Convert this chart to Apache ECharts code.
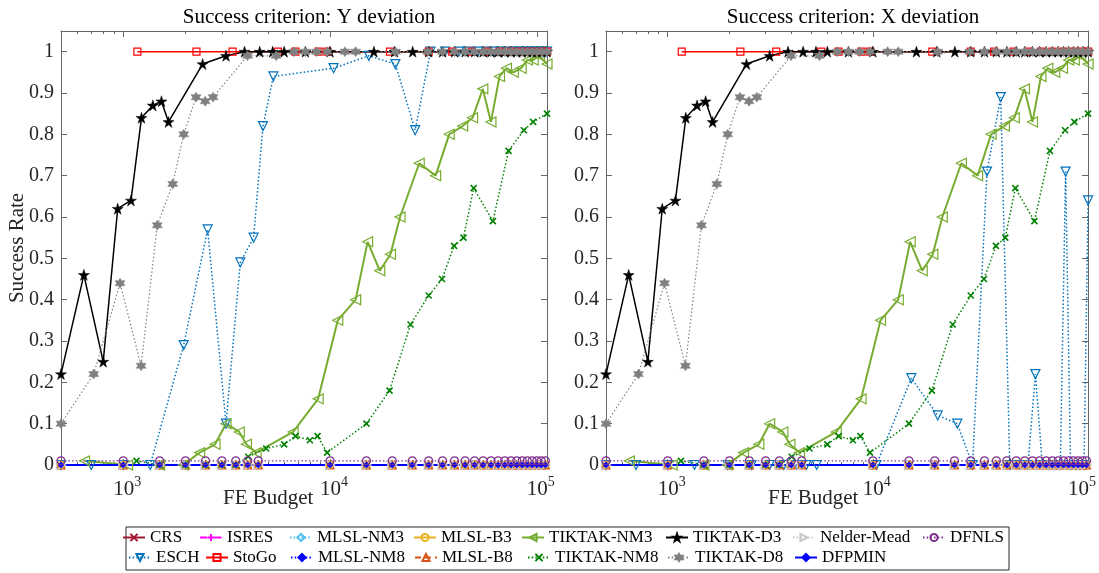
<!DOCTYPE html>
<html><head><meta charset="utf-8">
<script src="https://cdn.jsdelivr.net/npm/echarts@6/dist/echarts.min.js"></script>
<style>html,body{margin:0;padding:0;background:#fff}#c{width:1099px;height:573px}</style>
</head><body><div id="c"></div>
<script>
// ---------------- DATA ----------------
const panelTitles = ['Success criterion: Y deviation', 'Success criterion: X deviation'];
const xMajorTicks = [1000, 10000, 100000];
const xMajorExp = {1000: '3', 10000: '4', 100000: '5'};
const xMinorTicks = [600, 700, 800, 900, 2000, 3000, 4000, 5000, 6000, 7000, 8000, 9000,
  20000, 30000, 40000, 50000, 60000, 70000, 80000, 90000];
const yTickValues = [0, 0.1, 0.2, 0.3, 0.4, 0.5, 0.6, 0.7, 0.8, 0.9, 1];

// common budget grid (DFNLS & the methods that stay at 0)
const gridX = [500, 1000, 1500, 2000, 2500, 3000, 3500, 4000, 4500,
  10000, 15000, 20000, 25000, 30000, 35000, 40000, 45000, 50000, 55000, 60000,
  65000, 70000, 75000, 80000, 85000, 90000, 95000, 100000, 105000, 110000];
const zeroY = [0, 0, 0, 0, 0, 0, 0, 0, 0, 0, 0, 0, 0, 0, 0, 0, 0, 0, 0, 0, 0, 0, 0, 0, 0, 0, 0, 0, 0, 0];
const dfnlsY = [0.01, 0.01, 0.01, 0.01, 0.01, 0.01, 0.01, 0.01, 0.01, 0.01, 0.01, 0.01, 0.01, 0.01, 0.01,
  0.01, 0.01, 0.01, 0.01, 0.01, 0.01, 0.01, 0.01, 0.01, 0.01, 0.01, 0.01, 0.01, 0.01, 0.01];

const eschX = [500, 700, 1000, 1350, 1960, 2560, 3140, 3680, 4270, 4740, 5320, 10400, 15400, 20700, 25800,
  30600, 36000, 42000, 46500, 52000, 57000, 62000, 67000, 72000, 77000, 82000, 87000, 92000, 97000, 102000, 107000, 112000];
const eschYdev = [0, 0, 0, 0, 0.29, 0.57, 0.10, 0.49, 0.55, 0.82, 0.94, 0.96, 0.99, 0.97, 0.81,
  1, 1, 1, 1, 1, 1, 1, 1, 1, 1, 1, 1, 1, 1, 1, 1, 1];
const eschXdev = [0, 0, 0, 0, 0, 0, 0, 0, 0, 0, 0, 0, 0.21, 0.12, 0.10,
  0, 0.71, 0.89, 0, 0, 0, 0.22, 0, 0, 0, 0, 0.71, 0, 0, 0, 0, 0.64];

const stogoX = [1170, 2260, 3380, 5600, 6800, 8800, 9700, 19500, 30000, 39000, 48500, 57500, 66000, 75000, 85000, 95000, 105000, 112000];
const stogoY = [1, 1, 1, 1, 1, 1, 1, 1, 1, 1, 1, 1, 1, 1, 1, 1, 1, 1];

const nm3X = [650, 1050, 1500, 1950, 2340, 2780, 3140, 3640, 3940, 4390, 6630, 8760, 10900, 13300, 15200, 17400,
  19600, 21800, 27000, 32400, 37700, 43800, 48900, 54800, 60000, 66000, 71300, 77000, 84000, 90000, 96000, 103000, 112000];
const nm3Y = [0.01, 0, 0, 0, 0.03, 0.05, 0.10, 0.08, 0.05, 0.03, 0.08, 0.16, 0.35, 0.40, 0.54, 0.47,
  0.51, 0.60, 0.73, 0.70, 0.80, 0.82, 0.84, 0.91, 0.83, 0.94, 0.96, 0.95, 0.96, 0.98, 0.98, 0.99, 0.97];

const nm8X = [1160, 1500, 2000, 2500, 3000, 3500, 4020, 4910, 6000, 6810, 7990, 8700, 9680, 15000, 19400,
  24500, 30000, 34800, 39800, 44200, 49500, 61300, 73000, 86500, 96000, 112000];
const nm8Y = [0.01, 0, 0, 0, 0, 0, 0.02, 0.04, 0.05, 0.07, 0.06, 0.07, 0.03, 0.10, 0.18,
  0.34, 0.41, 0.45, 0.53, 0.55, 0.67, 0.59, 0.76, 0.81, 0.83, 0.85];

const d3X = [500, 645, 800, 940, 1090, 1225, 1390, 1530, 1655, 2420, 3140, 3860, 4570, 5280, 6000, 7600, 10000,
  16300, 20500, 25100, 30000, 35000, 40000, 45000, 50000, 55000, 60000, 65000, 70000, 75000, 80000, 85000,
  90000, 95000, 100000, 106000, 112000];
const d3Y = [0.22, 0.46, 0.25, 0.62, 0.64, 0.84, 0.87, 0.88, 0.83, 0.97, 0.99, 1, 1, 1, 1, 1, 1,
  1, 1, 1, 1, 1, 1, 1, 1, 1, 1, 1, 1, 1, 1, 1, 1, 1, 1, 1, 1];

const d8X = [500, 720, 965, 1220, 1460, 1735, 1960, 2250, 2490, 2720, 3990, 5490, 6700, 7600, 8600, 9700, 11800,
  13300, 20700, 29700, 35000, 40000, 45000, 50000, 55000, 60000, 65000, 70000, 75000, 80000, 85000, 90000,
  95000, 100000, 106000, 112000];
const d8Y = [0.10, 0.22, 0.44, 0.24, 0.58, 0.68, 0.80, 0.89, 0.88, 0.89, 0.99, 0.99, 1, 1, 1, 1, 1,
  1, 1, 1, 1, 1, 1, 1, 1, 1, 1, 1, 1, 1, 1, 1, 1, 1, 1, 1];

// ---------------- STYLE ----------------
const FONT = '"Liberation Serif","Times New Roman",serif';
const AX = '#666666';
const SYM = {
  x: 'path://M0,0L10,10M10,0L0,10',
  plus: 'path://M5,0L5,10M0,5L10,5',
  pent: 'path://M5,0L6.18,3.62L10,3.62L6.91,5.86L8.09,9.51L5,7.24L1.91,9.51L3.09,5.86L0,3.62L3.82,3.62Z',
  hex: 'path://M5,0L6.44,2.5L9.33,2.5L7.89,5L9.33,7.5L6.44,7.5L5,10L3.56,7.5L0.67,7.5L2.11,5L0.67,2.5L3.56,2.5Z',
  tdown: 'path://M0,0L10,0L5,8.66Z',
  tleft: 'path://M8.66,0L8.66,10L0,5Z',
  tright: 'path://M0,0L0,10L8.66,5Z',
  tup: 'path://M5,0L10,8.66L0,8.66Z'
};
const DOT = [1.5, 2.2], DASH = [6, 4], DASHDOT = [7, 3, 1.5, 3];

function pairs(xs, ys) { return xs.map((x, i) => [x, ys[i]]); }

// name, color, dash, width, symbol, size, fill mode, data per panel
const seriesDefs = [
  {name: 'CRS', c: '#A2142F', t: 'solid', w: 1, s: SYM.x, z: 7, f: 'stroke', d: [pairs(gridX, zeroY), pairs(gridX, zeroY)]},
  {name: 'ESCH', c: '#0072BD', t: DOT, w: 1.5, s: SYM.tdown, z: 9, f: 'hollow', d: [pairs(eschX, eschYdev), pairs(eschX, eschXdev)]},
  {name: 'ISRES', c: '#FF00FF', t: DASHDOT, w: 1, s: SYM.plus, z: 8, f: 'stroke', d: [pairs(gridX, zeroY), pairs(gridX, zeroY)]},
  {name: 'StoGo', c: '#FF0000', t: 'solid', w: 1.5, s: 'rect', z: 7, f: 'hollow', d: [pairs(stogoX, stogoY), pairs(stogoX, stogoY)]},
  {name: 'MLSL-NM3', c: '#4DBEEE', t: DOT, w: 1, s: 'diamond', z: 8, f: 'hollow', d: [pairs(gridX, zeroY), pairs(gridX, zeroY)]},
  {name: 'MLSL-NM8', c: '#0000FF', t: DOT, w: 1.5, s: 'diamond', z: 5, f: 'fill', d: [pairs(gridX, zeroY), pairs(gridX, zeroY)]},
  {name: 'MLSL-B3', c: '#EDB120', t: 'solid', w: 1, s: 'circle', z: 7, f: 'hollow', d: [pairs(gridX, zeroY), pairs(gridX, zeroY)]},
  {name: 'MLSL-B8', c: '#D95319', t: DASH, w: 1, s: SYM.tup, z: 8, f: 'hollow', d: [pairs(gridX, zeroY), pairs(gridX, zeroY)]},
  {name: 'TIKTAK-NM3', c: '#77AC30', t: 'solid', w: 2, s: SYM.tleft, z: 10, f: 'hollow', d: [pairs(nm3X, nm3Y), pairs(nm3X, nm3Y)]},
  {name: 'TIKTAK-NM8', c: '#008000', t: DOT, w: 1.5, s: SYM.x, z: 6, f: 'stroke', d: [pairs(nm8X, nm8Y), pairs(nm8X, nm8Y)]},
  {name: 'TIKTAK-D3', c: '#000000', t: 'solid', w: 1.5, s: SYM.pent, z: 11, f: 'fill', d: [pairs(d3X, d3Y), pairs(d3X, d3Y)]},
  {name: 'TIKTAK-D8', c: '#808080', t: DOT, w: 1.2, s: SYM.hex, z: 10, f: 'fill', d: [pairs(d8X, d8Y), pairs(d8X, d8Y)]},
  {name: 'Nelder-Mead', c: '#C8C8C8', t: DOT, w: 1.2, s: SYM.tright, z: 9, f: 'hollow', d: [pairs(gridX, zeroY), pairs(gridX, zeroY)]},
  {name: 'DFPMIN', c: '#0000FF', t: 'solid', w: 2, s: 'diamond', z: 6, f: 'fill', d: [pairs(gridX, zeroY), pairs(gridX, zeroY)]},
  {name: 'DFNLS', c: '#7E2F8E', t: DOT, w: 1.2, s: 'circle', z: 8, f: 'hollow', d: [pairs(gridX, dfnlsY), pairs(gridX, dfnlsY)]}
];

// legend placement: [name, text-left-x, row]
const legendPos = [
  ['CRS', 149, 0], ['ISRES', 226, 0], ['MLSL-NM3', 316, 0], ['MLSL-B3', 440, 0],
  ['TIKTAK-NM3', 548, 0], ['TIKTAK-D3', 692, 0], ['Nelder-Mead', 819, 0], ['DFNLS', 949, 0],
  ['ESCH', 155, 1], ['StoGo', 232, 1], ['MLSL-NM8', 317, 1], ['MLSL-B8', 441, 1],
  ['TIKTAK-NM8', 554, 1], ['TIKTAK-D8', 694, 1], ['DFPMIN', 821, 1]
];

const grids = [
  {left: 61, top: 31, width: 486, height: 434},
  {left: 606, top: 31, width: 485, height: 434}
];

const xAxes = [], yAxes = [], series = [];
const xlab = {
  customValues: xMajorTicks, margin: 10, color: '#262626',
  formatter: v => '{b|10}{s|' + xMajorExp[Math.round(v)] + '}',
  rich: {
    b: {fontFamily: FONT, fontSize: 21, color: '#262626', padding: [4, 0, 0, 8], verticalAlign: 'bottom'},
    s: {fontFamily: FONT, fontSize: 14, color: '#262626', verticalAlign: 'top'}
  }
};
grids.forEach((g, gi) => {
  const base = {type: 'log', logBase: 10, gridIndex: gi, min: 500, max: 112000, splitLine: {show: false}};
  xAxes.push(Object.assign({}, base, {position: 'bottom',
    axisLine: {show: true, lineStyle: {color: AX, width: 1}},
    axisTick: {show: true, inside: true, length: 6, customValues: xMajorTicks, lineStyle: {color: AX}},
    axisLabel: xlab}));
  xAxes.push(Object.assign({}, base, {position: 'bottom',
    axisLine: {show: false},
    axisTick: {show: true, inside: true, length: 3, customValues: xMinorTicks, lineStyle: {color: AX}},
    axisLabel: {show: false}}));
  xAxes.push(Object.assign({}, base, {position: 'top',
    axisLine: {show: true, lineStyle: {color: AX, width: 1}},
    axisTick: {show: true, inside: true, length: 6, customValues: xMajorTicks, lineStyle: {color: AX}},
    axisLabel: {show: false}}));
  xAxes.push(Object.assign({}, base, {position: 'top',
    axisLine: {show: false},
    axisTick: {show: true, inside: true, length: 3, customValues: xMinorTicks, lineStyle: {color: AX}},
    axisLabel: {show: false}}));
  const ybase = {type: 'value', gridIndex: gi, min: 0, max: 1.05, splitLine: {show: false}};
  yAxes.push(Object.assign({}, ybase, {position: 'left',
    axisLine: {show: true, lineStyle: {color: AX, width: 1}},
    axisTick: {show: true, inside: true, length: 6, customValues: yTickValues, lineStyle: {color: AX}},
    axisLabel: {customValues: yTickValues, margin: 7, fontFamily: FONT, fontSize: 20, color: '#262626'},
    name: gi === 0 ? 'Success Rate' : '', nameLocation: 'middle', nameGap: 33, nameRotate: 90,
    nameMoveOverlap: false,
    nameTextStyle: {fontFamily: FONT, fontSize: 21, color: '#262626'}}));
  yAxes.push(Object.assign({}, ybase, {position: 'right',
    axisLine: {show: true, lineStyle: {color: AX, width: 1}},
    axisTick: {show: true, inside: true, length: 6, customValues: yTickValues, lineStyle: {color: AX}},
    axisLabel: {show: false}}));

  seriesDefs.forEach(sd => {
    const item = sd.f === 'fill'
      ? {color: sd.c, borderColor: sd.c, borderWidth: 0.5}
      : {color: 'rgba(255,255,255,0)', borderColor: sd.c, borderWidth: sd.f === 'stroke' ? 1.6 : 1.2};
    series.push({
      type: 'line', name: sd.name, xAxisIndex: gi * 4, yAxisIndex: gi * 2,
      data: sd.d[gi], symbol: sd.s, symbolSize: sd.z, showAllSymbol: true,
      lineStyle: {color: sd.c, width: sd.w, type: sd.t},
      itemStyle: item, emphasis: {disabled: true}, animation: false
    });
  });
});

const legends = legendPos.map(([n, x, r]) => ({
  data: [n], left: x - 27, top: 529 + r * 20, itemWidth: 22, itemHeight: 9, selectedMode: false,
  textStyle: {fontFamily: FONT, fontSize: 17, color: '#000'}, padding: 0
}));

const chart = echarts.init(document.getElementById('c'), null, {renderer: 'canvas'});
chart.setOption({
  animation: false,
  backgroundColor: '#fff',
  title: panelTitles.map((t, i) => ({
    text: t, left: i === 0 ? 304 : 848, top: 2, textAlign: 'center',
    textStyle: {fontFamily: FONT, fontSize: 21, fontWeight: 'normal', color: '#000'}
  })),
  grid: grids,
  xAxis: xAxes,
  yAxis: yAxes,
  legend: legends,
  graphic: [
    {type: 'rect', shape: {x: 126, y: 527, width: 883, height: 43}, style: {fill: '#fff', stroke: '#262626', lineWidth: 1}, z: 0},
    {type: 'text', x: 223, y: 488, style: {text: 'FE Budget', font: '21px "Liberation Serif"', fill: '#262626'}, z: 1},
    {type: 'text', x: 768, y: 488, style: {text: 'FE Budget', font: '21px "Liberation Serif"', fill: '#262626'}, z: 1}
  ],
  series: series
});
</script></body></html>
